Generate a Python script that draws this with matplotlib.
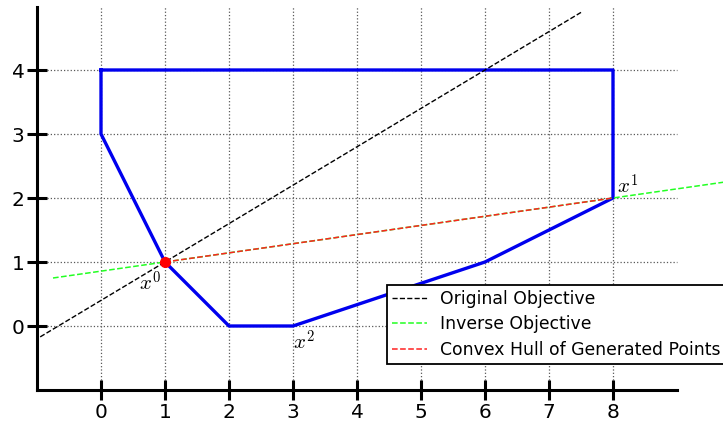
import matplotlib
matplotlib.use('Agg')
import matplotlib.pyplot as plt

plt.rcParams['mathtext.fontset'] = 'cm'

# feasible region boundary
poly_x = [0, 0, 1, 2, 3, 6, 8, 8, 0]
poly_y = [4, 3, 1, 0, 0, 1, 2, 4, 4]

# objective lines
orig_x = [-0.95, 7.5]
orig_y = [1 + 0.6 * (-1.95), 1 + 0.6 * 6.5]
inv_x = [-0.75, 9.75]
inv_y = [1 - 1.75 / 7, 1 + 8.75 / 7]
hull_x = [1, 8]
hull_y = [1, 2]

pt_x = [1]
pt_y = [1]

labels = ['$x^0$', '$x^1$', '$x^2$']
label_x = [0.6, 8.07, 3.0]
label_y = [0.55, 2.07, -0.37]

xticks = [0, 1, 2, 3, 4, 5, 6, 7, 8]
yticks = [0, 1, 2, 3, 4]

fig = plt.figure(figsize=(7.23, 4.24), dpi=100)
ax = fig.add_axes([0, 0, 1, 1])
ax.set_xlim(-101 / 64, 622 / 64)
ax.set_ylim(-98 / 64, 326 / 64)

# grid, only inside the spine box
ax.hlines(yticks, -1, 9, colors='0.35', linestyles=':', linewidth=0.9, zorder=1)
ax.vlines(xticks, -1, 5, colors='0.35', linestyles=':', linewidth=0.9, zorder=1)

ax.plot(poly_x, poly_y, color='#0000ee', linewidth=2.4, zorder=3)
ax.plot(orig_x, orig_y, '--', color='black', linewidth=1.0, label='Original Objective', zorder=4)
ax.plot(inv_x, inv_y, '--', color='#22ff22', linewidth=1.1, label='Inverse Objective', zorder=4)
ax.plot(hull_x, hull_y, '--', color='#ff2222', linewidth=1.1, label='Convex Hull of Generated Points', zorder=5)
ax.plot(pt_x, pt_y, 'o', color='red', markersize=7, zorder=6)

for lab, lx, ly in zip(labels, label_x, label_y):
    ax.text(lx, ly, lab, fontsize=15, zorder=6)

# spines crossing at (-1, -1)
for s in ['top', 'right']:
    ax.spines[s].set_visible(False)
ax.spines['left'].set_position(('data', -1))
ax.spines['bottom'].set_position(('data', -1))
ax.spines['left'].set_bounds(-1, 4.98)
ax.spines['bottom'].set_bounds(-1, 9)
ax.spines['left'].set_linewidth(2.2)
ax.spines['bottom'].set_linewidth(2.2)

ax.set_xticks(xticks)
ax.set_yticks(yticks)
ax.tick_params(direction='inout', length=14, width=2.2, labelsize=14.5, pad=2)

leg = ax.legend(loc='upper left', bbox_to_anchor=(4.47, 0.64), bbox_transform=ax.transData,
                fontsize=12.4, fancybox=False, framealpha=1, edgecolor='black',
                borderpad=0.3, labelspacing=0.42, handlelength=2.0, borderaxespad=0)
leg.get_frame().set_linewidth(1.3)
leg.set_zorder(7)

fig.savefig('out.png', dpi=100)
